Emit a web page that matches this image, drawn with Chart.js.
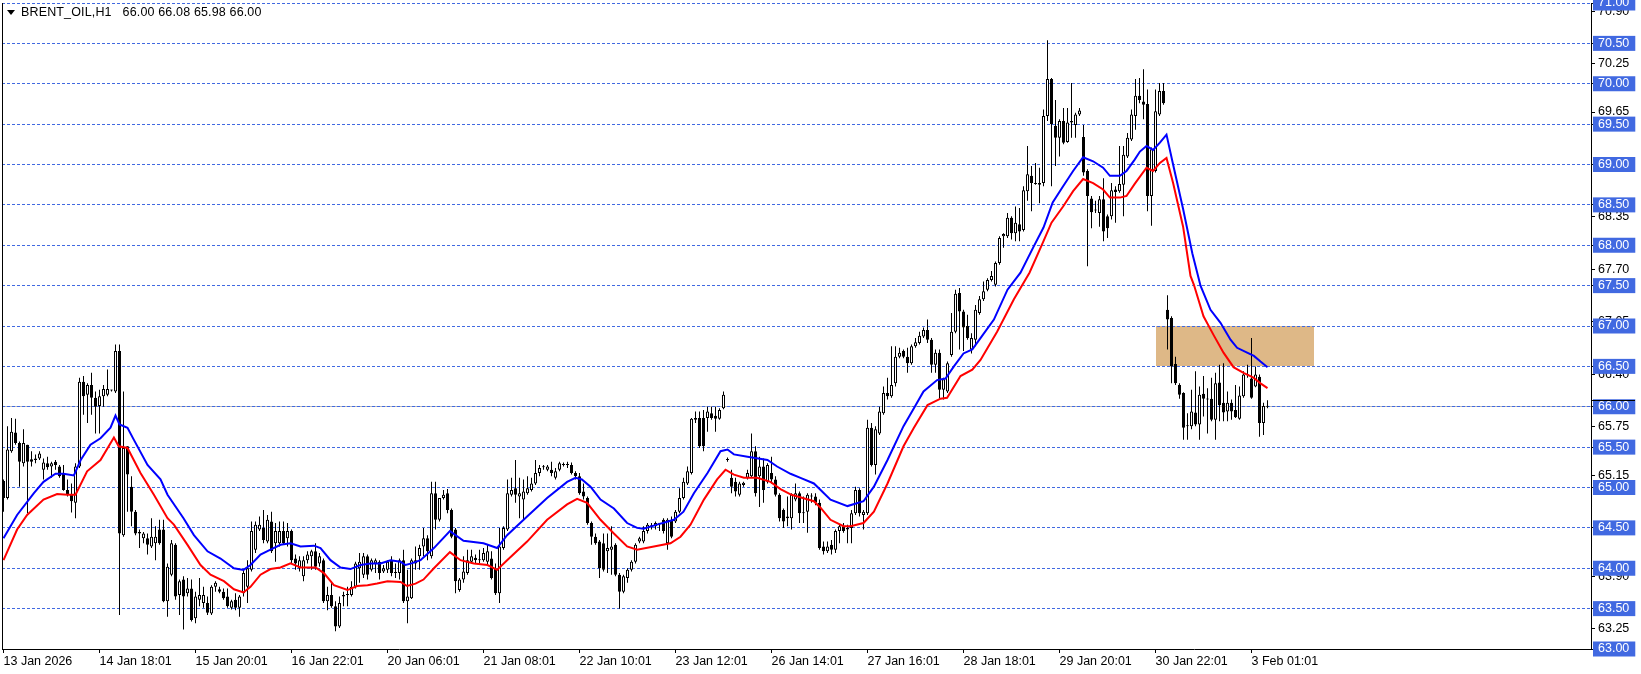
<!DOCTYPE html>
<html>
<head>
<meta charset="utf-8">
<title>BRENT_OIL,H1</title>
<script src="https://cdn.jsdelivr.net/npm/chart.js@4.4.1/dist/chart.umd.min.js"></script>
<style>
html,body{margin:0;padding:0;background:#ffffff;overflow:hidden;}
#wrap{position:relative;width:1641px;height:674px;}
#c{position:absolute;left:0;top:0;}
#tri{position:absolute;left:7px;top:10px;width:0;height:0;border-left:4px solid transparent;border-right:4px solid transparent;border-top:5px solid #000;}
#title{position:absolute;left:21px;top:5px;font-family:"Liberation Sans",Arial,sans-serif;font-size:12.5px;letter-spacing:0.15px;line-height:14px;color:#000;white-space:pre;}
</style>
</head>
<body>
<div id="wrap">
<canvas id="c" width="1641" height="674"></canvas>
<div id="tri"></div>
<div id="title"></div>
</div>
<script>
const symbolName = 'BRENT_OIL,H1';

const opens = [
65.08,64.87,65.45,65.68,65.55,65.30,65.53,65.35,65.34,65.36,
65.22,65.30,65.26,65.32,65.26,65.18,64.97,64.91,64.81,65.26,
66.31,66.15,66.27,66.11,66.01,66.13,66.15,66.20,66.19,66.69,
64.41,65.51,65.01,64.70,64.45,64.37,64.37,64.27,64.31,64.48,
64.48,63.59,63.92,64.29,63.67,63.86,63.69,63.75,63.38,63.61,
63.57,63.57,63.44,63.77,63.74,63.71,63.65,63.51,63.61,63.51,
63.69,63.77,63.98,64.23,64.48,64.50,64.33,64.58,64.31,64.31,
64.46,64.37,64.46,64.12,64.00,63.90,64.10,64.15,64.21,64.06,
64.10,63.59,63.67,63.53,63.28,63.65,63.67,63.67,63.77,64.00,
63.92,64.15,63.98,64.06,64.08,63.96,63.98,64.10,63.94,63.94,
64.10,63.59,63.63,64.06,64.15,64.27,64.37,64.15,64.93,64.60,
64.87,64.93,64.72,64.48,63.73,63.86,63.94,64.08,64.13,64.10,
64.10,64.08,64.12,64.00,63.69,64.25,64.48,64.91,64.99,64.89,
64.85,64.93,64.97,65.05,65.18,65.25,65.22,65.22,65.12,65.22,
65.28,65.28,65.28,65.18,65.14,64.95,64.87,64.56,64.39,64.33,
64.31,64.21,64.23,64.29,63.92,63.71,63.88,63.98,64.08,64.33,
64.33,64.46,64.52,64.52,64.55,64.60,64.31,64.60,64.58,64.70,
64.87,65.05,65.18,65.84,65.86,65.86,65.86,65.92,65.89,65.85,
65.98,65.34,65.12,65.07,64.91,65.03,65.12,65.14,65.45,65.14,
65.26,65.07,65.18,65.10,64.91,64.72,64.62,64.62,64.85,64.93,
64.68,64.70,64.89,64.89,64.81,64.27,64.21,64.29,64.23,64.46,
64.52,64.48,64.50,64.68,64.97,64.66,64.68,65.74,65.28,65.67,
65.92,66.17,66.13,66.29,66.62,66.69,66.62,66.54,66.75,66.79,
66.87,66.95,66.83,66.52,66.67,66.21,66.19,66.64,66.93,67.41,
67.18,67.00,66.71,66.83,67.16,67.33,67.45,67.57,67.51,67.78,
68.11,68.11,68.34,68.15,68.26,68.19,68.67,68.86,68.76,68.75,
68.77,69.60,70.06,69.48,69.33,69.54,69.28,69.54,69.49,69.62,
69.34,68.92,68.58,68.43,68.40,68.57,68.36,68.36,68.69,68.67,
68.75,69.10,69.31,69.60,69.85,69.78,69.75,68.61,68.92,69.62,
69.91,67.20,67.10,66.53,66.27,66.17,65.77,65.76,65.93,65.78,
66.16,66.09,66.10,65.84,66.30,66.05,65.94,66.05,65.96,65.85,
66.13,66.40,66.35,66.25,66.37,65.80,66.00];

const highs = [
65.10,65.76,65.86,65.85,65.57,65.72,65.53,65.45,65.41,65.45,
65.36,65.38,65.32,65.34,65.28,65.28,65.10,65.05,65.30,66.36,
66.38,66.29,66.42,66.19,66.21,66.27,66.46,66.21,66.77,66.77,
66.19,65.51,65.14,64.72,64.48,64.45,64.43,64.62,64.52,64.60,
64.60,64.06,64.35,64.31,63.86,63.90,63.88,63.86,63.71,63.88,
63.77,63.65,63.79,63.84,63.77,63.75,63.75,63.61,63.69,63.67,
63.98,64.10,64.58,64.58,64.64,64.72,64.66,64.70,64.56,64.58,
64.58,64.56,64.48,64.17,64.15,64.15,64.21,64.23,64.31,64.19,
64.12,63.77,63.82,63.59,63.65,63.71,63.77,63.84,64.08,64.19,
64.19,64.17,64.12,64.12,64.10,64.04,64.10,64.15,64.06,64.12,
64.23,63.98,64.12,64.27,64.29,64.50,64.41,65.07,65.07,64.87,
64.97,64.98,64.74,64.50,63.88,64.15,64.23,64.23,64.17,64.23,
64.25,64.29,64.21,64.06,64.50,64.52,65.10,65.12,65.34,65.12,
65.10,65.14,65.12,65.34,65.28,65.28,65.28,65.32,65.24,65.32,
65.31,65.32,65.31,65.20,65.18,65.05,64.89,64.58,64.43,64.35,
64.43,64.43,64.52,64.31,63.94,63.92,64.00,64.10,64.31,64.39,
64.52,64.56,64.56,64.58,64.56,64.62,64.62,64.64,64.72,64.99,
65.12,65.26,65.86,65.94,65.94,65.96,66.00,66.00,66.00,65.98,
66.19,65.37,65.22,65.12,65.07,65.07,65.22,65.67,65.51,65.38,
65.36,65.30,65.38,65.14,64.93,64.74,64.89,64.93,65.05,64.95,
64.89,64.93,64.93,64.93,64.85,64.33,64.33,64.35,64.48,64.54,
64.56,64.54,64.72,65.01,64.99,64.72,65.84,65.80,65.76,66.00,
66.25,66.36,66.75,66.75,66.73,66.71,66.73,66.77,66.85,66.93,
66.98,67.08,66.85,66.71,66.71,66.36,66.56,67.16,67.45,67.47,
67.20,67.14,66.91,67.26,67.37,67.55,67.59,67.68,67.80,68.11,
68.15,68.40,68.36,68.48,68.46,68.73,69.23,68.98,69.02,68.96,
69.68,70.54,70.07,69.80,69.56,69.70,69.70,70.01,69.64,69.70,
69.49,68.94,68.61,68.55,68.61,68.83,68.38,68.77,68.73,69.23,
69.23,69.39,69.68,70.06,70.07,70.18,69.93,69.21,69.93,70.01,
70.01,67.38,67.12,66.62,66.29,66.18,65.92,66.21,66.44,66.25,
66.38,66.23,66.36,66.42,66.52,66.54,66.19,66.09,66.27,66.25,
66.44,66.52,66.85,66.50,66.40,66.05,66.08];

const lows = [
64.70,64.85,65.43,65.53,65.01,65.26,64.68,65.26,65.30,65.34,
65.10,65.22,65.12,65.22,65.12,64.96,64.89,64.69,64.62,65.24,
65.90,65.80,65.90,65.67,65.67,66.00,66.13,66.19,66.17,63.42,
64.39,64.70,64.52,64.41,64.25,64.31,64.17,64.25,64.10,64.29,
63.58,63.40,63.90,63.61,63.42,63.24,63.65,63.34,63.32,63.53,
63.51,63.42,63.42,63.71,63.69,63.61,63.51,63.49,63.48,63.40,
63.65,63.57,63.96,64.19,64.46,64.31,64.31,64.19,64.08,64.27,
64.29,64.27,64.06,63.98,63.96,63.84,64.06,63.98,63.98,64.02,
63.57,63.48,63.51,63.22,63.26,63.53,63.53,63.65,63.75,63.82,
63.88,63.86,63.96,63.94,63.86,63.94,63.94,63.90,63.88,63.86,
63.57,63.32,63.62,63.98,63.98,64.15,64.10,64.12,64.48,64.58,
64.85,64.68,64.37,63.69,63.71,63.82,63.92,64.06,64.06,64.06,
64.08,64.04,63.86,63.67,63.57,64.23,64.46,64.89,64.81,64.62,
64.60,64.91,64.95,65.03,65.14,65.22,65.20,65.14,65.10,65.20,
65.26,65.24,65.16,65.10,64.91,64.85,64.54,64.29,64.29,63.88,
63.96,63.94,63.92,63.90,63.50,63.69,63.82,63.96,64.06,64.31,
64.31,64.43,64.48,64.48,64.46,64.43,64.23,64.37,64.56,64.68,
64.85,65.03,65.16,65.80,65.49,65.45,65.69,65.84,65.69,65.84,
65.97,65.32,64.93,64.89,64.89,65.01,65.10,65.12,64.89,64.76,
64.81,65.05,65.05,64.89,64.58,64.50,64.52,64.48,64.83,64.56,
64.56,64.44,64.81,64.78,64.23,64.17,64.19,64.17,64.19,64.31,
64.44,64.31,64.31,64.66,64.64,64.48,64.66,65.26,65.16,65.65,
65.90,66.09,66.11,66.25,66.60,66.60,66.42,66.52,66.73,66.77,
66.85,66.79,66.42,66.42,66.09,66.09,66.17,66.62,66.91,66.71,
66.69,66.83,66.66,66.75,67.14,67.31,67.43,67.55,67.49,67.76,
67.97,68.09,68.07,68.05,68.05,68.17,68.55,68.42,68.75,68.52,
68.73,69.54,68.73,68.98,69.10,69.25,69.27,69.33,69.33,69.60,
68.86,67.74,68.21,68.40,68.23,68.05,68.09,68.32,68.28,68.65,
68.36,69.08,69.29,69.43,69.76,69.56,68.42,68.24,68.90,69.60,
69.74,66.71,66.29,66.27,66.10,65.59,65.59,65.72,65.76,65.59,
65.88,65.67,65.82,65.59,65.82,65.82,65.82,65.84,65.86,65.84,
66.11,66.36,66.10,66.24,65.63,65.65,65.98];

const closes = [
64.87,65.47,65.69,65.55,65.32,65.55,65.32,65.32,65.36,65.42,
65.31,65.25,65.30,65.28,65.14,64.97,64.91,64.83,65.26,66.31,
66.13,66.27,66.11,66.00,66.13,66.22,66.22,66.20,66.69,64.43,
65.49,65.16,64.70,64.43,64.43,64.43,64.29,64.39,64.39,64.31,
63.59,64.02,64.31,63.65,63.84,63.65,63.75,63.36,63.65,63.67,
63.67,63.45,63.77,63.82,63.71,63.63,63.53,63.59,63.51,63.65,
63.94,64.00,64.46,64.54,64.54,64.35,64.60,64.21,64.46,64.46,
64.31,64.46,64.10,64.06,64.10,64.10,64.17,64.21,64.02,64.15,
63.59,63.67,63.53,63.28,63.57,63.67,63.67,63.77,64.06,64.08,
64.15,63.92,64.10,64.10,63.94,64.00,64.08,63.94,63.94,64.10,
63.59,63.65,64.10,64.10,64.25,64.37,64.21,64.93,64.60,64.87,
64.91,64.72,64.39,63.84,63.86,63.96,64.10,64.15,64.10,64.10,
64.19,64.21,63.88,63.69,64.27,64.50,64.93,64.97,64.91,64.93,
64.95,64.99,65.05,65.18,65.24,65.25,65.26,65.18,65.20,65.30,
65.28,65.28,65.18,65.14,64.93,64.89,64.56,64.39,64.31,64.00,
63.98,64.25,64.27,63.92,63.71,63.90,63.98,64.08,64.29,64.37,
64.46,64.54,64.52,64.56,64.55,64.46,64.60,64.39,64.70,64.87,
65.07,65.20,65.85,65.86,65.51,65.51,65.94,65.86,65.85,65.96,
66.15,65.35,65.01,64.95,65.05,65.06,65.18,65.45,64.93,65.26,
64.97,65.28,65.10,64.91,64.62,64.58,64.64,64.91,64.93,64.68,
64.69,64.91,64.89,64.81,64.25,64.21,64.27,64.23,64.46,64.52,
64.46,64.50,64.68,64.97,64.68,64.70,65.74,65.28,65.72,65.94,
66.17,66.13,66.27,66.62,66.67,66.62,66.54,66.75,66.80,66.88,
66.95,66.83,66.52,66.67,66.21,66.34,66.54,66.93,67.40,67.18,
66.98,66.85,66.85,67.20,67.33,67.43,67.57,67.62,67.78,68.09,
68.14,68.34,68.15,68.28,68.17,68.68,68.88,68.77,68.76,68.77,
69.60,70.06,69.50,69.33,69.54,69.27,69.52,69.52,69.62,69.67,
68.90,68.61,68.41,68.43,68.57,68.17,68.21,68.68,68.66,68.76,
69.12,69.33,69.62,69.85,69.80,69.74,68.61,69.19,69.66,69.91,
69.76,67.08,66.50,66.29,66.15,65.74,65.76,65.94,65.78,66.15,
66.10,66.09,65.84,66.29,66.02,65.93,66.05,65.94,65.87,66.14,
66.40,66.39,66.11,66.40,65.80,66.01,66.00];

// moving-average lines (bar position, price)
const blueX = [0,3.4,7.6,10,13,15,17.6,19.3,21.75,24.25,26.75,28,29,31,32.6,36,39.25,41,45,47.6,51,54.25,57.6,60,61.75,64.25,66.75,69.25,71.75,74.25,77.6,79.25,81.75,84.25,86.75,89.25,91.75,94.25,96.75,99.25,100.5,102,104.25,107.6,111.6,115,120,123.4,125.9,130.9,135.9,140.9,143,144.6,146.75,149.25,152.6,155.9,158.4,160,163.4,167.6,170,172.6,176,179.25,181,182.6,186,191,193.4,196.75,199.25,202.6,206.75,211,215,217.6,221,225,227.6,230,233.4,235.5,237.6,240,242.2,244.25,247.6,251,254.25,257.5,260,262.3,264.9,267.4,269.9,272.4,274.9,276.6,279.1,280.75,282.8,284.1,285.75,287.4,289.1,290.75,292.4,294.9,297.2,299.25,301.75,304.25,306.75,308.4,310.9,312.6,314.25,316];
const blueY = [64.37,64.66,64.93,65.07,65.17,65.17,65.15,65.34,65.53,65.61,65.74,65.89,65.78,65.74,65.59,65.28,65.10,64.91,64.62,64.41,64.21,64.12,64.00,63.98,64.04,64.17,64.23,64.29,64.31,64.27,64.28,64.25,64.10,64.01,63.99,64.04,64.06,64.06,64.10,64.08,64.04,64.06,64.10,64.25,64.46,64.34,64.31,64.25,64.41,64.64,64.87,65.07,65.12,65.10,65.01,64.85,64.74,64.56,64.50,64.49,64.54,64.60,64.70,64.93,65.18,65.45,65.47,65.41,65.38,65.34,65.26,65.17,65.12,65.05,64.85,64.77,64.83,65.01,65.34,65.76,65.98,66.19,66.33,66.35,66.50,66.66,66.71,66.85,67.08,67.45,67.66,67.98,68.22,68.53,68.73,68.92,69.09,69.04,68.96,68.86,68.86,68.92,69.06,69.16,69.23,69.18,69.27,69.37,69.00,68.45,67.90,67.50,67.20,67.04,66.83,66.73,66.67,66.63,66.56,66.49];
const redX = [0,3.4,5.9,10,13.4,16,18,20.9,24.25,27.6,28.8,31,34.25,37.6,41,42.6,46,49.25,51.75,55.1,57.6,60,61.75,64.25,66.75,69.25,71.75,74.25,78,80.1,82.6,86,88.4,91,93.4,96,99.25,100.9,103,105,107.6,111.6,114.25,117.6,121,123.4,125.9,130.9,135.9,140.9,143.4,145.9,149.25,152.6,155.9,158.4,162.6,166.75,169.25,171.75,175.1,178.4,180.5,182.6,185.1,188.4,191.75,194.25,197,202.6,204.25,206.75,210,211.75,215,217.6,221,225,227.6,231,234.25,235.9,239.25,242.2,244.25,248.4,252.6,256.5,260,262,264.9,267.4,269.9,272.4,274.9,276.6,279.1,280.75,282.8,285.75,287.4,289.1,290.75,292.4,294.9,296.75,297.6,300,302.5,305,307.5,310,312.5,314.25,316];
const redY = [64.10,64.48,64.66,64.85,64.92,64.91,64.91,65.20,65.34,65.62,65.51,65.49,65.18,64.91,64.62,64.54,64.29,64.04,63.92,63.84,63.74,63.70,63.77,63.92,63.99,64.01,64.06,64.01,64.01,63.94,63.79,63.73,63.78,63.79,63.81,63.84,63.83,63.78,63.81,63.86,64.00,64.20,64.10,64.06,64.04,63.98,64.10,64.33,64.60,64.79,64.86,64.81,64.60,64.43,64.27,64.23,64.27,64.31,64.39,64.54,64.85,65.10,65.22,65.16,65.12,65.12,65.07,64.98,64.91,64.83,64.75,64.60,64.52,64.52,64.56,64.70,65.05,65.51,65.74,66.02,66.10,66.11,66.38,66.46,66.58,66.93,67.33,67.66,68.05,68.28,68.48,68.67,68.82,68.77,68.69,68.59,68.59,68.61,68.76,68.96,68.92,69.02,69.08,68.77,68.23,67.62,67.51,67.12,66.89,66.67,66.49,66.42,66.36,66.29,66.23];

const xTickBars = [0,24,48,72,96,120,144,168,192,216,240,264,288,312];
const xTickLabels = ['13 Jan 2026','14 Jan 18:01','15 Jan 20:01','16 Jan 22:01','20 Jan 06:01','21 Jan 08:01','22 Jan 10:01','23 Jan 12:01','26 Jan 14:01','27 Jan 16:01','28 Jan 18:01','29 Jan 20:01','30 Jan 22:01','3 Feb 01:01'];
const levelTicks = [63,63.5,64,64.5,65,65.5,66,66.5,67,67.5,68,68.5,69,69.5,70,70.5,71];
const scaleTicks = [70.9,70.25,69.65,68.35,67.7,67.05,66.4,65.75,65.15,63.9,63.25];
const zoneBars = [288, 327.6];
const zonePrices = [66.5, 67.0];

const last = closes.length - 1;
const bidPrice = closes[last];
document.getElementById('title').textContent = symbolName + '   ' + [opens[last], highs[last], lows[last], closes[last]].map(v => v.toFixed(2)).join(' ');

const barIdx = opens.map((_, i) => i);
const wickData = barIdx.map(i => ({x: i, y: [lows[i], highs[i]]}));
const bodyData = barIdx.map(i => ({x: i, y: [Math.min(opens[i], closes[i]), Math.max(opens[i], closes[i])]}));
const bodyFill = barIdx.map(i => closes[i] >= opens[i] ? '#ffffff' : '#000000');

const isLevel = v => levelTicks.indexOf(v) !== -1;
const tickFont = { family: 'Liberation Sans', size: 12.5 };

const mtPlugin = {
  id: 'mt',
  beforeDatasetsDraw(chart) {
    const {ctx, chartArea: a, scales: {x, y}} = chart;
    ctx.save();
    ctx.beginPath();
    ctx.rect(a.left, a.top, a.right - a.left, a.bottom - a.top);
    ctx.clip();
    const zx0 = Math.round(x.getPixelForValue(zoneBars[0]));
    const zx1 = Math.round(x.getPixelForValue(zoneBars[1]));
    const zy0 = Math.round(y.getPixelForValue(zonePrices[1]));
    const zy1 = Math.round(y.getPixelForValue(zonePrices[0]));
    ctx.fillStyle = '#deb887';
    ctx.fillRect(zx0, zy0, zx1 - zx0, zy1 - zy0);
    const by = Math.floor(y.getPixelForValue(bidPrice)) + 0.5;
    ctx.lineWidth = 1;
    ctx.strokeStyle = '#b8b8b8';
    ctx.setLineDash([]);
    ctx.beginPath(); ctx.moveTo(a.left, by); ctx.lineTo(a.right, by); ctx.stroke();
    ctx.strokeStyle = '#4169e1';
    ctx.setLineDash([3, 2]);
    levelTicks.forEach(v => {
      const py = Math.floor(y.getPixelForValue(v)) + 0.5;
      ctx.beginPath(); ctx.moveTo(a.left, py); ctx.lineTo(a.right, py); ctx.stroke();
    });
    ctx.restore();
  },
  afterDraw(chart) {
    const {ctx, chartArea: a, scales: {y}} = chart;
    ctx.save();
    ctx.strokeStyle = '#000';
    ctx.lineWidth = 1;
    ctx.beginPath(); ctx.moveTo(a.left + 0.5, a.top); ctx.lineTo(a.left + 0.5, a.bottom); ctx.stroke();
    const my = Math.round(y.getPixelForValue(bidPrice) - 6.5) + 0.5;
    ctx.beginPath(); ctx.moveTo(a.right, my); ctx.lineTo(a.right + 44, my); ctx.stroke();
    ctx.restore();
  }
};

new Chart(document.getElementById('c'), {
  type: 'bar',
  data: {
    datasets: [
      { type: 'line', label: 'MA blue', data: blueX.map((v, k) => ({x: v, y: blueY[k]})), borderColor: '#0000ff', borderWidth: 2, pointRadius: 0, tension: 0, fill: false, order: 0 },
      { type: 'line', label: 'MA red', data: redX.map((v, k) => ({x: v, y: redY[k]})), borderColor: '#ff0000', borderWidth: 2, pointRadius: 0, tension: 0, fill: false, order: 0 },
      { type: 'bar', label: 'body', data: bodyData, backgroundColor: bodyFill, borderColor: '#000000', borderWidth: 1, borderSkipped: false, barThickness: 3, grouped: false, minBarLength: 1, inflateAmount: 0, order: 1 },
      { type: 'bar', label: 'wick', data: wickData, backgroundColor: '#000000', borderWidth: 0, barThickness: 1, grouped: false, inflateAmount: 0, order: 2 }
    ]
  },
  options: {
    responsive: false,
    animation: false,
    devicePixelRatio: 1,
    events: [],
    layout: { padding: { left: 2, top: 3, right: 0, bottom: 0 } },
    plugins: { legend: { display: false }, tooltip: { enabled: false }, title: { display: false } },
    scales: {
      x: {
        type: 'linear', position: 'bottom', min: -0.375, max: 396.875, offset: false, bounds: 'data',
        grid: { display: true, drawOnChartArea: false, drawTicks: true, tickLength: 4, tickColor: '#000', tickWidth: 1, offset: false, color: '#000' },
        border: { display: true, color: '#000', width: 1 },
        afterBuildTicks: s => { s.ticks = xTickBars.map(v => ({value: v})); },
        afterFit: s => { s.height = 25; s.paddingLeft = 0; s.paddingRight = 0; },
        ticks: {
          autoSkip: false, maxRotation: 0, minRotation: 0, align: 'start', padding: 1, color: '#000',
          font: tickFont,
          callback: (v, i) => xTickLabels[i]
        }
      },
      y: {
        type: 'linear', position: 'right', min: 63, max: 71, bounds: 'data',
        grid: { display: true, drawOnChartArea: false, drawTicks: true, tickLength: 4, tickColor: '#000', tickWidth: 1, color: '#000' },
        border: { display: true, color: '#000', width: 1 },
        afterBuildTicks: s => { s.ticks = scaleTicks.concat(levelTicks).map(v => ({value: v})); },
        afterFit: s => { s.width = 50; s.paddingTop = 0; s.paddingBottom = 0; },
        ticks: {
          autoSkip: false, padding: 3,
          font: tickFont,
          color: c => (c.tick && isLevel(c.tick.value)) ? '#ffffff' : '#000000',
          showLabelBackdrop: c => !!(c.tick && isLevel(c.tick.value)),
          backdropColor: '#4169e1',
          backdropPadding: { top: 0, bottom: 0, left: 5, right: 6 },
          callback: v => Number(v).toFixed(2)
        }
      }
    }
  },
  plugins: [mtPlugin]
});
</script>
</body>
</html>
